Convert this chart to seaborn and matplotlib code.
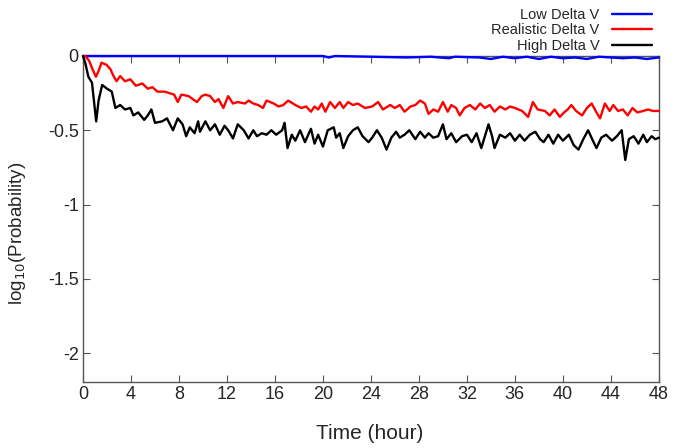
# Probability vs time for three Delta V cases

import pandas as pd
import matplotlib
matplotlib.use("Agg")
import matplotlib.pyplot as plt
import seaborn as sns


# Data (hours, log10 probability)

low_t = [0, 20, 20.5, 21, 24, 27, 29, 30.5, 31, 33, 34, 35, 36, 37, 38,
         39, 40, 41, 42, 43, 44, 45, 46, 47, 48]
low_v = [0, 0, -0.01, 0, -0.005, -0.01, -0.005, -0.015, -0.005, -0.01, -0.02,
         -0.005, -0.015, -0.005, -0.02, -0.005, -0.015, -0.01, -0.02, -0.005,
         -0.01, -0.015, -0.01, -0.02, -0.01]

real_t = [0, 0.17, 0.5, 0.8, 1.08, 1.3, 1.55, 1.97, 2.3, 2.5, 2.8, 3.1, 3.5,
          3.95, 4.4, 4.95, 5.4, 5.8, 6.2, 6.8, 7.2, 7.6, 7.9, 8.2, 8.8, 9.5,
          9.9, 10.2, 10.6, 11.0, 11.3, 11.7, 12.1, 12.5, 12.9, 13.5, 13.8,
          14.2, 14.6, 15.0, 15.3, 15.9, 16.3, 16.7, 17.1, 17.7, 18.2, 18.6,
          19.0, 19.3, 19.6, 19.9, 20.2, 20.6, 21.0, 21.4, 21.7, 22.1, 22.5,
          22.9, 23.5, 24.1, 24.6, 25.0, 25.6, 26.0, 26.4, 26.8, 27.3, 27.7,
          28.1, 28.5, 28.8, 29.2, 29.6, 30.0, 30.4, 30.7, 31.1, 31.4, 31.8,
          32.25, 32.7, 33.1, 33.5, 33.9, 34.3, 34.75, 35.2, 35.6, 36.0, 36.6,
          37.1, 37.5, 37.9, 38.5, 38.9, 39.3, 39.75, 40.1, 40.4, 40.7, 41.1,
          41.6, 42.0, 42.4, 42.8, 43.1, 43.5, 43.9, 44.2, 44.6, 45.0, 45.4,
          45.8, 46.2, 46.7, 47.1, 47.5, 48.0]
real_v = [0, 0, -0.03, -0.09, -0.14, -0.10, -0.045, -0.06, -0.09, -0.128,
          -0.17, -0.135, -0.17, -0.157, -0.20, -0.185, -0.22, -0.21, -0.24,
          -0.24, -0.25, -0.26, -0.31, -0.26, -0.27, -0.31, -0.27, -0.26,
          -0.27, -0.31, -0.29, -0.35, -0.27, -0.32, -0.31, -0.32, -0.30,
          -0.32, -0.33, -0.35, -0.30, -0.32, -0.34, -0.33, -0.30, -0.33,
          -0.35, -0.34, -0.375, -0.34, -0.36, -0.32, -0.375, -0.31, -0.35,
          -0.31, -0.35, -0.31, -0.33, -0.32, -0.35, -0.34, -0.31, -0.36,
          -0.33, -0.35, -0.33, -0.375, -0.34, -0.33, -0.30, -0.32, -0.39,
          -0.36, -0.375, -0.31, -0.375, -0.33, -0.35, -0.40, -0.35, -0.33,
          -0.36, -0.32, -0.35, -0.33, -0.375, -0.34, -0.36, -0.34, -0.35,
          -0.37, -0.41, -0.31, -0.36, -0.37, -0.40, -0.36, -0.41, -0.38,
          -0.36, -0.33, -0.37, -0.40, -0.35, -0.32, -0.38, -0.42, -0.32,
          -0.37, -0.33, -0.37, -0.36, -0.40, -0.35, -0.38, -0.37, -0.36,
          -0.37, -0.37]

high_t = [0, 0.2, 0.45, 0.75, 1.1, 1.3, 1.6, 2.0, 2.4, 2.7, 3.1, 3.5, 3.95,
          4.2, 4.6, 5.1, 5.4, 5.7, 6.0, 6.6, 7.0, 7.5, 7.9, 8.3, 8.6, 8.9,
          9.3, 9.6, 9.75, 10.2, 10.6, 11.0, 11.4, 11.8, 12.1, 12.5, 12.9,
          13.4, 13.8, 14.2, 14.5, 14.9, 15.3, 15.7, 16.1, 16.6, 16.8, 17.05,
          17.4, 17.7, 18.1, 18.5, 19.0, 19.3, 19.6, 20.0, 20.4, 20.9, 21.1,
          21.4, 21.7, 22.1, 22.5, 22.9, 23.3, 23.8, 24.1, 24.5, 24.9, 25.3,
          25.7, 26.1, 26.4, 26.8, 27.2, 27.7, 28.1, 28.5, 28.8, 29.2, 29.6,
          30.0, 30.3, 30.7, 31.1, 31.6, 32.0, 32.4, 32.8, 33.2, 33.5, 33.8,
          34.1, 34.3, 34.75, 35.2, 35.6, 36.0, 36.4, 36.8, 37.25, 37.7, 38.1,
          38.4, 38.8, 39.2, 39.6, 40.0, 40.5, 40.9, 41.3, 41.7, 42.1, 42.5,
          42.8, 43.2, 43.6, 44.1, 44.5, 44.9, 45.2, 45.5, 45.9, 46.3, 46.7,
          47.0, 47.4, 47.7, 48.0]
high_v = [0, -0.05, -0.14, -0.18, -0.44, -0.30, -0.195, -0.22, -0.24, -0.35,
          -0.33, -0.36, -0.35, -0.40, -0.38, -0.43, -0.40, -0.36, -0.45,
          -0.44, -0.42, -0.50, -0.42, -0.46, -0.54, -0.48, -0.52, -0.44,
          -0.51, -0.44, -0.50, -0.46, -0.53, -0.47, -0.50, -0.555, -0.46,
          -0.50, -0.555, -0.50, -0.54, -0.52, -0.53, -0.50, -0.53, -0.50,
          -0.45, -0.62, -0.53, -0.57, -0.50, -0.58, -0.49, -0.59, -0.53,
          -0.61, -0.50, -0.48, -0.55, -0.52, -0.62, -0.54, -0.50, -0.48,
          -0.54, -0.58, -0.55, -0.50, -0.55, -0.63, -0.55, -0.51, -0.55,
          -0.53, -0.50, -0.56, -0.51, -0.55, -0.52, -0.55, -0.54, -0.46,
          -0.56, -0.52, -0.58, -0.54, -0.53, -0.58, -0.52, -0.62, -0.54,
          -0.46, -0.54, -0.62, -0.53, -0.55, -0.52, -0.57, -0.53, -0.57,
          -0.53, -0.51, -0.56, -0.58, -0.53, -0.59, -0.53, -0.57, -0.53,
          -0.60, -0.63, -0.56, -0.50, -0.57, -0.62, -0.55, -0.53, -0.57,
          -0.54, -0.50, -0.70, -0.56, -0.54, -0.59, -0.53, -0.58, -0.54,
          -0.56, -0.55]

series_names = ["Low Delta V", "Realistic Delta V", "High Delta V"]
series_colors = ["#0000ff", "#ff0000", "#000000"]

x_ticks = [0, 4, 8, 12, 16, 20, 24, 28, 32, 36, 40, 44, 48]
y_ticks = [0, -0.5, -1, -1.5, -2]
y_tick_labels = ["0", "-0.5", "-1", "-1.5", "-2"]


# Build long table

frames = []
for name, t, v in zip(series_names, [low_t, real_t, high_t], [low_v, real_v, high_v]):
    frames.append(pd.DataFrame({"time": t, "logp": v, "series": name}))
data = pd.concat(frames, ignore_index=True)


# Plot

sns.set_style("ticks")
plt.rcParams["font.family"] = ["Liberation Sans", "DejaVu Sans"]

fig = plt.figure(figsize=(6.73, 4.48), dpi=100)
ax = fig.add_axes([0.1233, 0.1473, 0.8557, 0.7277])

sns.lineplot(
    data=data, x="time", y="logp", hue="series",
    hue_order=series_names, palette=series_colors,
    estimator=None, sort=False, linewidth=1.7, ax=ax
)
for line in ax.get_lines():
    line.set_clip_on(False)
    line.set_zorder(3)

ax.set_xlim(0, 48)
ax.set_ylim(-2.195, 0)
ax.set_xticks(x_ticks)
ax.set_yticks(y_ticks)
ax.set_yticklabels(y_tick_labels)
ax.tick_params(direction="in", length=5, width=0.8, color="#555555",
               labelsize=13, top=True, right=True, pad=3)
for side in ["left", "right", "bottom", "top"]:
    ax.spines[side].set_color("#555555")
    ax.spines[side].set_linewidth(1.0)

ax.set_xlabel("Time (hour)", fontsize=15)
ax.xaxis.set_label_coords(0.497, -0.128)
ax.set_ylabel("log$_{10}$(Probability)", fontsize=13.5)
ax.yaxis.set_label_coords(-0.095, 0.455)

handles, labels = ax.get_legend_handles_labels()
ax.get_legend().remove()
fig.legend(handles, labels, loc="upper right", bbox_to_anchor=(0.988, 1.012),
           frameon=False, markerfirst=False, fontsize=10.5,
           handlelength=2.7, handletextpad=0.9, labelspacing=0.12)

plt.savefig("out.png", dpi=100)
